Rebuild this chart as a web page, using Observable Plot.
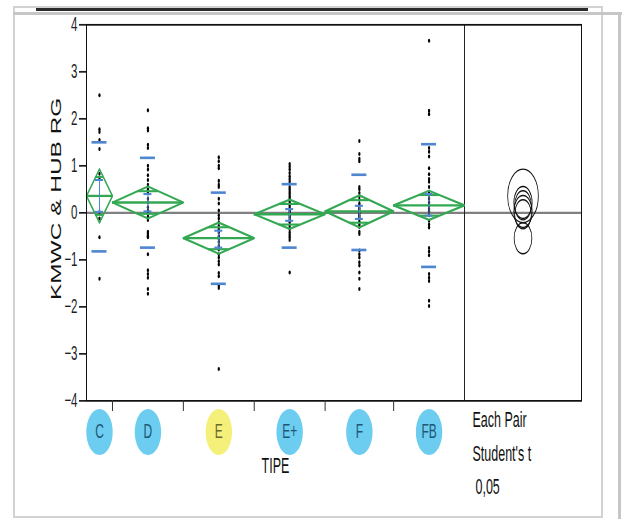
<!DOCTYPE html>
<html><head><meta charset="utf-8">
<script src="https://cdn.jsdelivr.net/npm/d3@7"></script>
<script src="https://cdn.jsdelivr.net/npm/@observablehq/plot@0.6"></script>
<style>
html,body{margin:0;padding:0;background:#fff;}
#wrap{position:relative;width:622px;height:519px;overflow:hidden;background:#fff;}
.dec{position:absolute;box-sizing:border-box;}
#chart{position:absolute;left:0;top:0;}
</style></head><body>
<div id="wrap">
  <div class="dec" style="left:13px;top:6px;width:590px;height:512px;border:2px solid #d2d2d2;"></div>
  <div class="dec" style="left:13px;top:12px;width:609px;height:3px;background:#c6c6c6;"></div>
  <div class="dec" style="left:618px;top:12px;width:3px;height:507px;background:#c6c6c6;"></div>
  <div class="dec" style="left:36px;top:8px;width:552px;height:3px;background:#2b2b2b;"></div>
  <div id="chart"></div>
</div>
<script>
// ---- data ----
const categories = ["C", "D", "E", "E+", "F", "FB"];
const highlighted = ["E"];
const valuesC = [2.5, 1.78, 1.72, 1.55, 1.36, 0.83, 0.72, 0.02, -0.12, -0.52, -1.4];
const valuesD = [2.18, 1.8, 1.75, 1.45, 1.38, 1.0, 0.92, 0.8, 0.7, 0.6, 0.5, 0.42, 0.3, 0.22, 0.12, 0.05, 0.0, -0.08, -0.15, -0.4, -0.43, -0.47, -0.5, -0.52, -0.88, -1.22, -1.3, -1.38, -1.62, -1.72];
const valuesE = [1.18, 1.1, 1.0, 0.95, 0.68, 0.6, 0.55, 0.3, 0.2, 0.05, -0.05, -0.12, -0.2, -0.28, -0.35, -0.42, -0.5, -0.55, -0.62, -0.7, -0.78, -0.88, -0.95, -1.03, -1.1, -1.28, -1.35, -1.55, -1.6, -3.32];
const valuesEplus = [1.04, 0.98, 0.92, 0.85, 0.78, 0.72, 0.66, 0.55, 0.5, 0.45, 0.4, 0.35, 0.3, 0.25, 0.2, 0.15, 0.1, 0.05, 0.0, -0.05, -0.1, -0.15, -0.2, -0.28, -0.35, -0.42, -0.47, -0.52, -0.58, -1.27];
const valuesF = [1.53, 1.25, 1.15, 1.1, 0.55, 0.5, 0.42, 0.35, 0.28, 0.2, 0.15, 0.1, 0.05, 0.0, -0.05, -0.1, -0.18, -0.25, -0.3, -0.4, -0.45, -0.8, -0.88, -0.95, -1.05, -1.12, -1.27, -1.4, -1.62];
const valuesFB = [3.66, 2.17, 2.1, 1.38, 1.3, 1.2, 0.95, 0.82, 0.72, 0.66, 0.55, 0.45, 0.38, 0.3, 0.22, 0.15, 0.08, 0.03, -0.05, -0.17, -0.25, -0.31, -0.75, -0.82, -0.9, -1.3, -1.38, -1.45, -1.87, -1.98];
const groupMeans = [0.36, 0.22, -0.54, -0.03, 0.03, 0.16];
const ciHalfWidth = [0.57, 0.34, 0.33, 0.31, 0.34, 0.31];
const seLow  = [0.02, 0.03, -0.74, -0.17, -0.13, -0.06];
const seHigh = [0.70, 0.40, -0.38, 0.08, 0.15, 0.40];
const sdLow  = [-0.82, -0.74, -1.51, -0.74, -0.79, -1.15];
const sdHigh = [1.50, 1.17, 0.43, 0.61, 0.81, 1.46];
const yTicks = [-4, -3, -2, -1, 0, 1, 2, 3, 4];
const yLabel = "KMWC & HUB RG";
const xLabel = "TIPE";
const compareLines = ["Each Pair", "Student's t", "0,05"];

// ---- layout (unstretched space; SVG is stretched vertically like the reference) ----
const W = 622, H = 297, mL = 86, mR = 41, mT = 13.7, mB = 68.1;
const plotW = W - mL - mR, plotH = H - mT - mB;
const values = [valuesC, valuesD, valuesE, valuesEplus, valuesF, valuesFB];
let acc = 0;
const groups = categories.map((c, i) => {
  const n = values[i].length;
  const g = {c, n, x0: acc, x1: acc + n, cx: acc + n / 2, mean: groupMeans[i], hw: ciHalfWidth[i],
             seLo: seLow[i], seHi: seHigh[i], sdLo: sdLow[i], sdHi: sdHigh[i]};
  acc += n;
  return g;
});
const N = acc;
const panelShare = 117 / 495;
const xMax = N / (1 - panelShare);
const uPerPx = xMax / plotW;
const pxPerY = plotH / (yTicks[yTicks.length - 1] - yTicks[0]);
const yMin = yTicks[0];
const yMid = (yTicks[0] + yTicks[yTicks.length - 1]) / 2;
const panelCx = (N + xMax) / 2;
const bounds = groups.slice(1).map(g => g.x0);

const points = groups.flatMap((g, i) => values[i].map(v => ({cx: g.cx, v})));
const diamonds = groups.flatMap(g => [
  {c: g.c, x: g.x0, y: g.mean}, {c: g.c, x: g.cx, y: g.mean + g.hw},
  {c: g.c, x: g.x1, y: g.mean}, {c: g.c, x: g.cx, y: g.mean - g.hw},
  {c: g.c, x: g.x0, y: g.mean}
]);
const k = 1 - Math.SQRT1_2;
const overlap = groups.flatMap(g => [g.mean + g.hw * Math.SQRT1_2, g.mean - g.hw * Math.SQRT1_2]
  .map(y => ({y, x1: g.cx - k * g.n / 2, x2: g.cx + k * g.n / 2})));
const sdLines = groups.flatMap(g => [g.sdLo, g.sdHi].map(y => ({y, x1: g.cx - 7.5 * uPerPx, x2: g.cx + 7.5 * uPerPx})));
const caps = groups.flatMap(g => [g.seLo, g.seHi].map(y => ({y, x1: g.cx - 4 * uPerPx, x2: g.cx + 4 * uPerPx})));

const green = "#33a852", blue = "#4f86d0";
const lblBlue = "#6ccdf0", lblYellow = "#f4f07a";

const svg = Plot.plot({
  width: W, height: H,
  marginLeft: mL, marginRight: mR, marginTop: mT, marginBottom: mB,
  style: {fontFamily: "'Liberation Sans', Arial, sans-serif", fontSize: "11px", background: "transparent", overflow: "visible"},
  x: {domain: [0, xMax], label: null},
  y: {domain: [yMin, yTicks[yTicks.length - 1]], label: null},
  r: {type: "linear", domain: [0, 1], range: [0, pxPerY]},
  marks: [
    Plot.ruleY([0], {stroke: "#808080", strokeWidth: 1.2}),
    Plot.ruleX([N], {stroke: "#222", strokeWidth: 1}),
    Plot.dot(points, {x: "cx", y: "v", r: 1.15, fill: "#000", stroke: "none"}),
    Plot.line(diamonds, {x: "x", y: "y", z: "c", stroke: green, strokeWidth: 1.3}),
    Plot.ruleY(groups, {y: "mean", x1: "x0", x2: "x1", stroke: green, strokeWidth: 1.3}),
    Plot.ruleY(overlap, {y: "y", x1: "x1", x2: "x2", stroke: green, strokeWidth: 1.2}),
    Plot.ruleY(sdLines, {y: "y", x1: "x1", x2: "x2", stroke: blue, strokeWidth: 1.5}),
    Plot.ruleX(groups, {x: "cx", y1: "seLo", y2: "seHi", stroke: blue, strokeWidth: 1}),
    Plot.ruleY(caps, {y: "y", x1: "x1", x2: "x2", stroke: blue, strokeWidth: 1.2}),
    Plot.dot(groups, {x: () => panelCx, y: "mean", r: "hw", stroke: "#111", fill: "none", strokeWidth: 0.8}),
    Plot.frame({stroke: "#111", strokeWidth: 1}),
    Plot.axisY({ticks: yTicks, tickSize: 7, tickPadding: 2, label: null, color: "#1e1e28", fontSize: 11.5}),
    Plot.axisX({ticks: bounds, tickSize: 6.3, tickFormat: () => "", label: null, color: "#333"}),
    Plot.text([yLabel], {x: () => 0, y: () => yMid, text: d => d, rotate: -90, textAnchor: "middle", dx: -30, dy: -8, fontSize: 14, fill: "#111"}),
    Plot.dot(groups, {x: "cx", y: () => yMin, dy: 17.8, r: 13.2, fill: g => highlighted.includes(g.c) ? lblYellow : lblBlue, stroke: "none"}),
    Plot.text(groups, {x: "cx", y: () => yMin, dy: 17.6, text: "c", fontSize: 12,
      fill: g => highlighted.includes(g.c) ? "#6b6a2d" : "#1e5676"}),
    Plot.text([xLabel], {x: () => N / 2, y: () => yMin, dy: 37.2, text: d => d, fontSize: 12.5, letterSpacing: "-0.6px", fill: "#111"}),
    Plot.text([compareLines[0]], {x: () => N, y: () => yMin, dx: 8, dy: 10.7, text: d => d, textAnchor: "start", fontSize: 12.5, letterSpacing: "-0.4px", fill: "#111"}),
    Plot.text([compareLines[1]], {x: () => N, y: () => yMin, dx: 8, dy: 30.5, text: d => d, textAnchor: "start", fontSize: 12.5, letterSpacing: "-0.4px", fill: "#111"}),
    Plot.text([compareLines[2]], {x: () => N, y: () => yMin, dx: 11, dy: 49.2, text: d => d, textAnchor: "start", fontSize: 12.5, letterSpacing: "-0.4px", fill: "#111"})
  ]
});
svg.setAttribute("viewBox", `0 0 ${W} ${H}`);
svg.setAttribute("preserveAspectRatio", "none");
svg.setAttribute("height", 519);
svg.style.width = "622px";
svg.style.height = "519px";
svg.style.maxWidth = "none";
document.getElementById("chart").appendChild(svg);
</script>
</body></html>
